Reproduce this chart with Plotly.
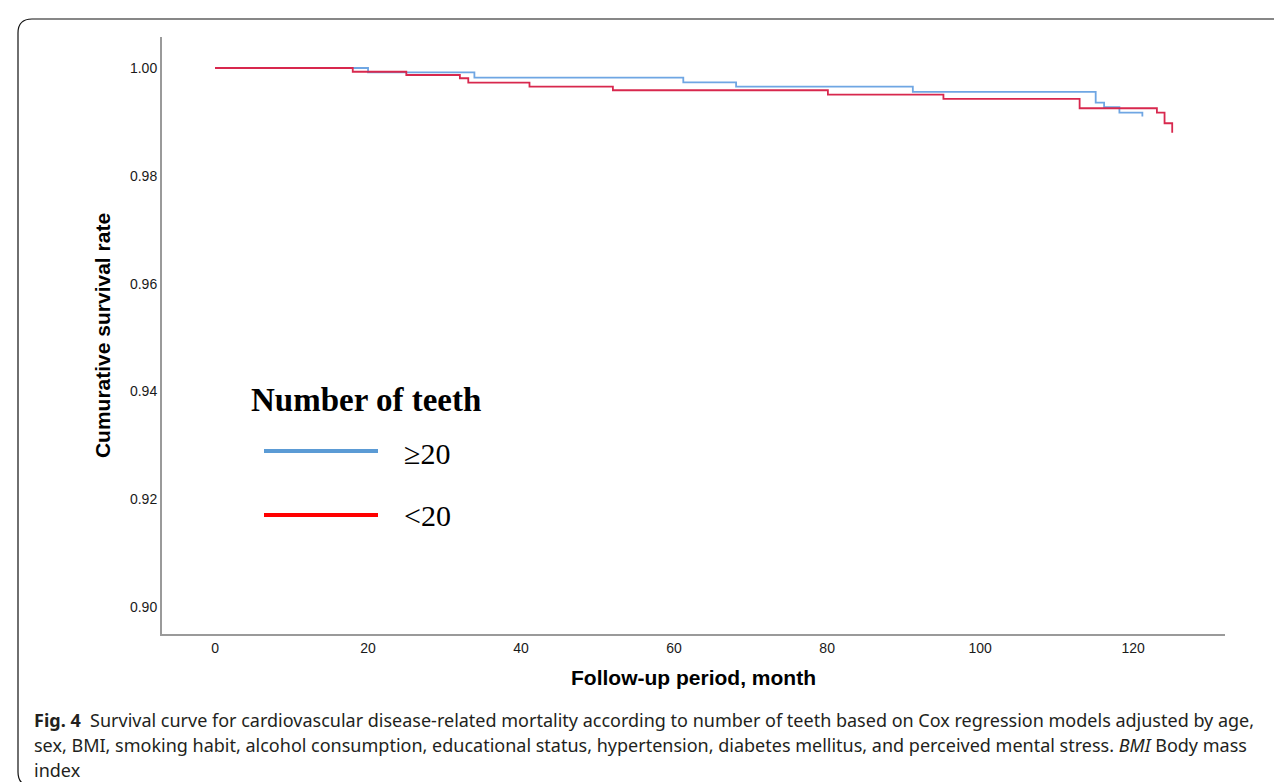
import plotly.graph_objects as go

# ---- data ----
blue_label = "≥20"
red_label = "<20"
blue_months = [0, 20.0, 33.9, 61.2, 68.1, 91.2, 115.1, 116.2, 118.2, 121.2]
blue_surv = [1.0, 0.9992, 0.9982, 0.99735, 0.99654, 0.99556, 0.99358, 0.99272, 0.99173, 0.9910]
red_months = [0, 18.0, 25.0, 32.0, 33.1, 41.1, 52.0, 80.1, 95.2, 113.0, 123.1, 124.1, 125.1]
red_surv = [1.0, 0.9993, 0.9987, 0.9981, 0.9973, 0.99654, 0.99587, 0.99506, 0.99426, 0.99253, 0.99173, 0.98975, 0.9880]
x_ticks = [0, 20, 40, 60, 80, 100, 120]
y_ticks = [0.90, 0.92, 0.94, 0.96, 0.98, 1.00]

W, H = 1282, 782
L, R, T, B = 154, 1217, 29, 626  # plot area in pixels


def px(x):
    return (x - L) / (R - L)


def py(y):
    return (B - y) / (B - T)


fig = go.Figure()
fig.add_trace(go.Scatter(x=blue_months, y=blue_surv, mode="lines", line_shape="hv",
                         line=dict(color="#6fa6e3", width=1.8), name=blue_label, showlegend=False))
fig.add_trace(go.Scatter(x=red_months, y=red_surv, mode="lines", line_shape="hv",
                         line=dict(color="#d8284e", width=1.8), name=red_label, showlegend=False))

shapes = []
# frame (rounded, right side cut off)
r = 14
x0, x1, y0, y1 = 10, 1300, 11, 778
path = (f"M {px(x1)},{py(y0)} L {px(x0 + r)},{py(y0)} Q {px(x0)},{py(y0)} {px(x0)},{py(y0 + r)} "
        f"L {px(x0)},{py(y1 - r)} Q {px(x0)},{py(y1)} {px(x0 + r)},{py(y1)} L {px(x1)},{py(y1)}")
shapes.append(dict(type="path", xref="paper", yref="paper", path=path,
                   line=dict(color="#111111", width=1.2)))
# legend samples
shapes.append(dict(type="line", xref="paper", yref="paper", x0=px(256), x1=px(370), y0=py(443), y1=py(443),
                   line=dict(color="#5b9bd5", width=4)))
shapes.append(dict(type="line", xref="paper", yref="paper", x0=px(256), x1=px(370), y0=py(507), y1=py(507),
                   line=dict(color="#ff0000", width=4)))

annotations = [
    dict(x=px(241), y=py(392), xref="paper", yref="paper", xanchor="left", yanchor="middle", showarrow=False,
         text="<b>Number of teeth</b>", font=dict(family="Liberation Serif", size=33, color="#000000")),
    dict(x=px(394), y=py(445), xref="paper", yref="paper", xanchor="left", yanchor="middle", showarrow=False,
         text=blue_label, font=dict(family="Liberation Serif", size=30, color="#000000")),
    dict(x=px(394), y=py(507), xref="paper", yref="paper", xanchor="left", yanchor="middle", showarrow=False,
         text=red_label, font=dict(family="Liberation Serif", size=30, color="#000000")),
]
caption_lines = [
    "<b>Fig. 4</b>  Survival curve for cardiovascular disease-related mortality according to number of teeth based on Cox regression models adjusted by age,",
    "sex, BMI, smoking habit, alcohol consumption, educational status, hypertension, diabetes mellitus, and perceived mental stress. <i>BMI</i> Body mass",
    "index",
]
for i, line in enumerate(caption_lines):
    annotations.append(dict(x=px(24), y=py(712 + 25 * i), xref="paper", yref="paper", xanchor="left",
                            yanchor="middle", showarrow=False, text=line,
                            font=dict(family="Noto Sans", size=18, color="#231f20")))

fig.update_layout(
    width=W, height=H,
    margin=dict(l=L, r=W - R, t=T, b=H - B),
    paper_bgcolor="white", plot_bgcolor="white",
    shapes=shapes, annotations=annotations,
    xaxis=dict(range=[-6.93, 132.0], tickvals=x_ticks, ticktext=[str(v) for v in x_ticks],
               showgrid=False, zeroline=False, showline=True, linecolor="#9a9a9a", linewidth=2,
               ticks="", tickfont=dict(family="Liberation Sans", size=14, color="#1a1a1a"),
               title=dict(text="<b>Follow-up period, month</b>", standoff=16,
                          font=dict(family="Liberation Sans", size=21, color="#000000"))),
    yaxis=dict(range=[0.8950, 1.00575], tickvals=y_ticks, ticktext=[f"{v:.2f}" for v in y_ticks],
               showgrid=False, zeroline=False, showline=True, linecolor="#9a9a9a", linewidth=2,
               ticks="", tickfont=dict(family="Liberation Sans", size=14, color="#1a1a1a"),
               title=dict(text="<b>Cumurative survival rate</b>", standoff=14,
                          font=dict(family="Liberation Sans", size=21, color="#000000"))),
)

fig.write_html("out.html")
